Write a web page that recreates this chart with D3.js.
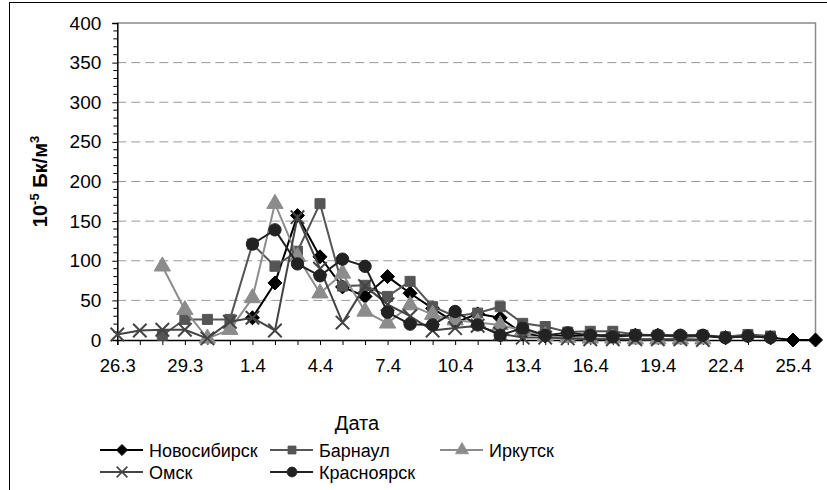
<!DOCTYPE html>
<html>
<head>
<meta charset="utf-8">
<script src="https://cdn.jsdelivr.net/npm/d3@7"></script>
<style>
  body { margin: 0; background: #fff; }
  svg { display: block; font-family: "Liberation Sans", Arial, sans-serif; }
</style>
</head>
<body>
<svg id="chart" width="827" height="490"></svg>
<script>
// Sampling dates (day.month)
const dates = ["26.3","27.3","28.3","29.3","30.3","31.3",
  "1.4","2.4","3.4","4.4","5.4","6.4","7.4","8.4","9.4","10.4",
  "11.4","12.4","13.4","14.4","15.4","16.4","17.4","18.4","19.4","20.4",
  "21.4","22.4","23.4","24.4","25.4","26.4"];
const tickLabels = ["26.3","29.3","1.4","4.4","7.4","10.4","13.4","16.4","19.4","22.4","25.4"];
const yTicks = [0, 50, 100, 150, 200, 250, 300, 350, 400];

// Activity, 10^-5 Bq/m3 (null = no measurement)
const novosibirsk = [null,null,null,null,null,null,28,72,157,105,67,55,80,59,40,22,33,28,8,5,5,6,6,6,6,4,5,3,5,3,0,0];
const barnaul     = [null,null,6,26,26,26,121,93,112,172,68,69,55,74,42,30,34,42,21,17,10,11,11,7,6,5,6,4,7,5,null,null];
const irkutsk     = [null,null,93,38,2,13,53,172,105,59,84,36,21,44,32,25,22,19,12,5,3,2,2,1,1,1,1,null,null,null,null,null];
const omsk        = [7,12,13,13,2,23,28,12,155,90,22,68,45,30,12,15,18,8,3,3,2,1,1,1,1,1,0,null,null,null,null,null];
const krasnoyarsk = [null,null,null,null,null,null,121,139,96,81,102,93,35,20,19,36,19,6,15,6,9,6,4,6,6,6,6,3,5,3,null,null];

const series = [
  { name: "Новосибирск", values: novosibirsk, stroke: "#000000", fill: "#000000", symbol: "diamond" },
  { name: "Барнаул",     values: barnaul,     stroke: "#555555", fill: "#555555", symbol: "square" },
  { name: "Иркутск",     values: irkutsk,     stroke: "#8c8c8c", fill: "#8c8c8c", symbol: "triangle" },
  { name: "Омск",        values: omsk,        stroke: "#444444", fill: "none",    symbol: "cross" },
  { name: "Красноярск",  values: krasnoyarsk, stroke: "#222222", fill: "#222222", symbol: "circle" }
];

const svg = d3.select("#chart");
const plotLeft = 117.3, plotRight = 815.5, plotTop = 23, plotBottom = 340;

// outer frame
svg.append("rect").attr("x", 9.5).attr("y", 2.5).attr("width", 830).attr("height", 500)
  .attr("fill", "none").attr("stroke", "#000").attr("stroke-width", 1);

const x = d3.scalePoint().domain(dates).range([plotLeft, plotRight]);
const y = d3.scaleLinear().domain([0, 400]).range([plotBottom, plotTop]);

// gridlines
svg.append("g").selectAll("line").data(yTicks.filter(v => v > 0 && v < 400)).join("line")
  .attr("x1", plotLeft).attr("x2", plotRight)
  .attr("y1", d => y(d)).attr("y2", d => y(d))
  .attr("stroke", "#999").attr("stroke-width", 1).attr("stroke-dasharray", "9,5");

// plot area top / right border
svg.append("path")
  .attr("d", `M${plotLeft},${y(400)}H${plotRight}V${plotBottom}`)
  .attr("fill", "none").attr("stroke", "#8a8a8a").attr("stroke-width", 1.5);

// y axis
const yAxis = d3.axisLeft(y).tickValues(yTicks).tickSize(5).tickPadding(11).tickFormat(d3.format("d"));
const gy = svg.append("g").attr("transform", `translate(${plotLeft},0)`).call(yAxis);
gy.select(".domain").attr("stroke", "#000").attr("stroke-width", 1.5);
gy.selectAll(".tick line").attr("stroke", "#000");
gy.selectAll(".tick text").attr("font-size", 19).attr("fill", "#000")
  .attr("font-family", "Liberation Sans, Arial, sans-serif");

// minor y ticks every 10
svg.append("g").selectAll("line").data(d3.range(0, 401, 10).filter(v => v % 50 !== 0)).join("line")
  .attr("x1", plotLeft - 4).attr("x2", plotLeft)
  .attr("y1", d => y(d)).attr("y2", d => y(d))
  .attr("stroke", "#000").attr("stroke-width", 1);

// x axis
const xAxis = d3.axisBottom(x).tickSize(5).tickPadding(14)
  .tickFormat(d => tickLabels.includes(d) ? d : "");
const gx = svg.append("g").attr("transform", `translate(0,${plotBottom})`).call(xAxis);
gx.select(".domain").attr("stroke", "#000").attr("stroke-width", 1.5);
gx.selectAll(".tick line").attr("stroke", "#000");
gx.selectAll(".tick text").attr("font-size", 18.5).attr("fill", "#000")
  .attr("font-family", "Liberation Sans, Arial, sans-serif");

// axis titles
svg.append("text")
  .attr("transform", `translate(47,${(plotTop + plotBottom) / 2}) rotate(-90)`)
  .attr("text-anchor", "middle").attr("font-size", 20).attr("font-weight", "bold")
  .html('10<tspan dy="-8" font-size="13">-5</tspan><tspan dy="8"> Бк/м</tspan><tspan dy="-8" font-size="13">3</tspan>');

svg.append("text").attr("x", 357).attr("y", 430).attr("text-anchor", "middle")
  .attr("font-size", 20).text("Дата");

// marker paths
const diamondPath = (r) => () => `M0,${-r}L${r},0L0,${r}L${-r},0Z`;
const symbolMap = {
  diamond: diamondPath(7),
  square: d3.symbol(d3.symbolSquare, 100),
  triangle: d3.symbol(d3.symbolTriangle, 115),
  circle: d3.symbol(d3.symbolCircle, 120),
  cross: d3.symbol(d3.symbolX, 120)
};

const line = d3.line().x(d => x(d.date)).y(d => y(d.v));

series.forEach(s => {
  const pts = s.values.map((v, i) => ({ date: dates[i], v })).filter(p => p.v !== null);
  const g = svg.append("g");
  g.append("path").attr("d", line(pts))
    .attr("fill", "none").attr("stroke", s.stroke).attr("stroke-width", 2);
  g.selectAll("path.m").data(pts).join("path").attr("class", "m")
    .attr("transform", p => `translate(${x(p.date)},${y(p.v)})`)
    .attr("d", symbolMap[s.symbol]())
    .attr("fill", s.fill)
    .attr("stroke", s.stroke)
    .attr("stroke-width", s.symbol === "cross" ? 2 : 1);
});

// legend
const legendPos = [
  { x: 100, y: 450 }, { x: 270, y: 450 }, { x: 440, y: 450 },
  { x: 100, y: 472 }, { x: 270, y: 472 }
];
series.forEach((s, i) => {
  const p = legendPos[i];
  const g = svg.append("g").attr("transform", `translate(${p.x},${p.y})`);
  g.append("line").attr("x1", 0).attr("x2", 43).attr("y1", 0).attr("y2", 0)
    .attr("stroke", s.stroke).attr("stroke-width", 2);
  g.append("path").attr("transform", "translate(22,0) scale(0.8)")
    .attr("d", symbolMap[s.symbol]())
    .attr("fill", s.fill).attr("stroke", s.stroke)
    .attr("stroke-width", s.symbol === "cross" ? 2 : 1);
  g.append("text").attr("x", 49).attr("y", 6.5).attr("font-size", 18).text(s.name);
});
</script>
</body>
</html>
